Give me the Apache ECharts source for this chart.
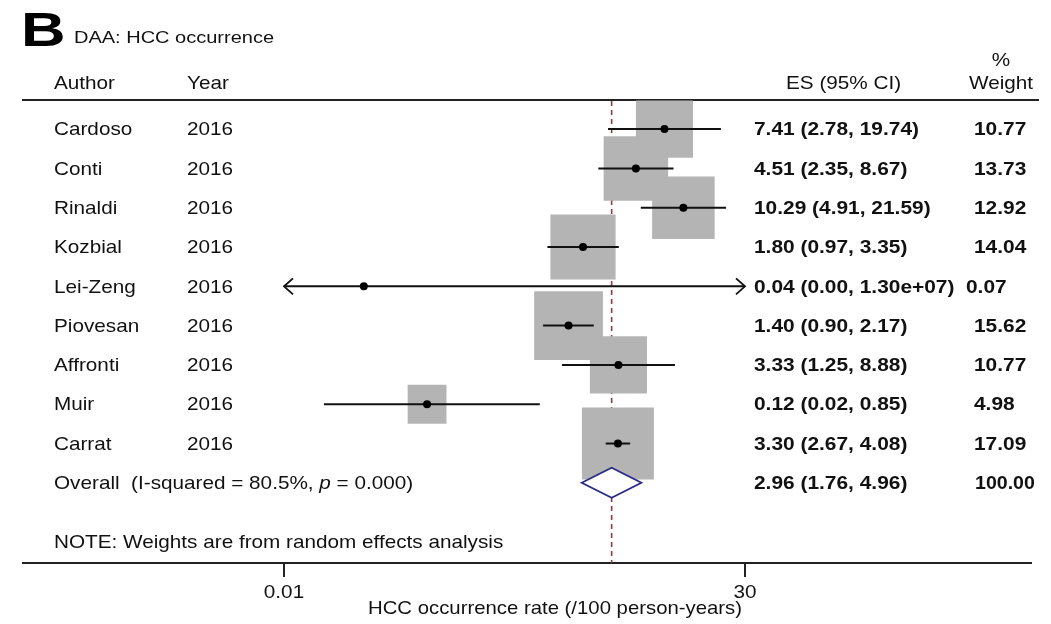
<!DOCTYPE html>
<html>
<head>
<meta charset="utf-8">
<script src="https://cdn.jsdelivr.net/npm/echarts@6/dist/echarts.min.js"></script>
<style>
  html, body { margin: 0; padding: 0; background: #fff; }
  #chart { width: 1051px; height: 624px; }
</style>
</head>
<body>
<div id="chart"></div>
<script>
// Study-level estimates (HCC occurrence per 100 person-years, DAA cohorts)
const authors   = ['Cardoso', 'Conti', 'Rinaldi', 'Kozbial', 'Lei-Zeng', 'Piovesan', 'Affronti', 'Muir', 'Carrat'];
const years     = [2016, 2016, 2016, 2016, 2016, 2016, 2016, 2016, 2016];
const esValues  = [7.41, 4.51, 10.29, 1.80, 0.04, 1.40, 3.33, 0.12, 3.30];
const ciLower   = [2.78, 2.35, 4.91, 0.97, 0.00, 0.90, 1.25, 0.02, 2.67];
const ciUpper   = [19.74, 8.67, 21.59, 3.35, 1.30e7, 2.17, 8.88, 0.85, 4.08];
const weights   = [10.77, 13.73, 12.92, 14.04, 0.07, 15.62, 10.77, 4.98, 17.09];

// Pooled random-effects estimate
const overallEs     = [2.96];
const overallCi     = [1.76, 4.96];
const overallWeight = [100.00];
const heterogeneity = { i2: '80.5%', p: '0.000' };

// Axis ticks (log scale)
const xTicks = [0.01, 30];
const xTickLabels = ['0.01', '30'];

const FONT = '"Liberation Sans", Arial, Helvetica, sans-serif';
const INK = '#111111';
const SX = 1.09;              // horizontal stretch of regular text
const SX_BOLD = 1.1;          // horizontal stretch of bold text
const COL = { author: 54, year: 187, es: 754, weight: 974 };
const ROW_OVERALL = 9;

function fmt(v) {
  if (v >= 1e5) {
    return v.toExponential(2).replace(/e([+-])(\d)$/, 'e$10$2');
  }
  return v.toFixed(2);
}

function txt(text, x, y, o) {
  o = o || {};
  return {
    type: 'text',
    x: x, y: y + 1,
    scaleX: o.sx || (o.bold ? SX_BOLD : SX),
    style: {
      text: text,
      fontFamily: FONT,
      fontSize: o.size || 19,
      fontWeight: o.bold ? 'bold' : 'normal',
      fill: INK,
      align: o.align || 'left',
      verticalAlign: 'middle',
      rich: o.rich
    }
  };
}

const chart = echarts.init(document.getElementById('chart'), null, { renderer: 'canvas' });

const option = {
  animation: false,
  backgroundColor: '#ffffff',
  grid: { left: 284, right: 306, top: 100, bottom: 61, containLabel: false },
  xAxis: {
    type: 'log', logBase: 10, min: xTicks[0], max: xTicks[xTicks.length - 1],
    axisLine: { show: false }, axisTick: { show: false },
    axisLabel: { show: false }, splitLine: { show: false }
  },
  yAxis: {
    type: 'value', inverse: true, min: -0.74, max: 11.04,
    axisLine: { show: false }, axisTick: { show: false },
    axisLabel: { show: false }, splitLine: { show: false }
  },
  graphic: [
    { type: 'text', x: 21, y: 32, scaleX: 1.26, z: 5,
      style: { text: 'B', fontFamily: FONT, fontSize: 49, fontWeight: 'bold', fill: '#000', verticalAlign: 'middle' } },
    Object.assign(txt('DAA: HCC occurrence', 74, 38, { size: 16, sx: 1.25 }), { z: 5 }),
    Object.assign(txt('Author', COL.author, 83), { z: 5 }),
    Object.assign(txt('Year', COL.year, 83), { z: 5 }),
    Object.assign(txt('ES (95% CI)', 786, 83), { z: 5 }),
    Object.assign(txt('%', 1001, 60, { align: 'center' }), { z: 5 }),
    Object.assign(txt('Weight', 1001, 83, { align: 'center' }), { z: 5 }),
    { type: 'line', z: 0, shape: { x1: 22, y1: 100, x2: 1039, y2: 100 },
      style: { stroke: '#222', lineWidth: 2 } },
    { type: 'line', z: 0, shape: { x1: 22, y1: 563, x2: 1032, y2: 563 },
      style: { stroke: '#222', lineWidth: 2 } },
    Object.assign(txt('NOTE: Weights are from random effects analysis', COL.author, 542), { z: 5 }),
    Object.assign(txt('HCC occurrence rate (/100 person-years)', 555, 608, { align: 'center', sx: 1.07 }), { z: 5 })
  ],
  series: [
    // reference line at the pooled estimate
    {
      type: 'custom', z: 1, clip: false,
      data: overallEs.map(v => [v, 0]),
      renderItem: function (params, api) {
        const p = api.coord([api.value(0), 0]);
        const cs = params.coordSys;
        return {
          type: 'line',
          shape: { x1: p[0], y1: cs.y + 1, x2: p[0], y2: cs.y + cs.height },
          style: { stroke: '#a3323e', lineWidth: 1.6, lineDash: [5, 4] }
        };
      }
    },
    // weight boxes
    {
      type: 'custom', z: 2, clip: false,
      data: esValues.map((v, i) => [v, i]),
      renderItem: function (params, api) {
        const i = params.dataIndex;
        const c = api.coord([api.value(0), api.value(1)]);
        const side = 17.4 * Math.sqrt(weights[i]);
        return {
          type: 'rect',
          shape: { x: c[0] - side / 2, y: c[1] - side / 2, width: side, height: side },
          style: { fill: '#b4b4b4' }
        };
      }
    },
    // confidence intervals, point estimates and row text
    {
      type: 'custom', z: 3, clip: false,
      data: esValues.map((v, i) => [v, i]),
      renderItem: function (params, api) {
        const i = params.dataIndex;
        const row = api.value(1);
        const lo = Math.max(ciLower[i], xTicks[0]);
        const hi = Math.min(ciUpper[i], xTicks[xTicks.length - 1]);
        const pL = api.coord([lo, row]);
        const pR = api.coord([hi, row]);
        const c = api.coord([api.value(0), row]);
        const y = c[1];
        const children = [
          { type: 'line', shape: { x1: pL[0], y1: y, x2: pR[0], y2: y },
            style: { stroke: '#111', lineWidth: 2 } }
        ];
        if (ciLower[i] < xTicks[0]) {
          children.push({ type: 'polyline',
            shape: { points: [[pL[0] + 9, y - 8], [pL[0], y], [pL[0] + 9, y + 8]] },
            style: { stroke: '#111', lineWidth: 1.8, fill: null } });
        }
        if (ciUpper[i] > xTicks[xTicks.length - 1]) {
          children.push({ type: 'polyline',
            shape: { points: [[pR[0] - 9, y - 8], [pR[0], y], [pR[0] - 9, y + 8]] },
            style: { stroke: '#111', lineWidth: 1.8, fill: null } });
        }
        children.push({ type: 'circle', shape: { cx: c[0], cy: y, r: 4 }, style: { fill: '#000' } });
        children.push(txt(authors[i], COL.author, y));
        children.push(txt(String(years[i]), COL.year, y));
        children.push(txt(fmt(esValues[i]) + ' (' + fmt(ciLower[i]) + ', ' + fmt(ciUpper[i]) + ')', COL.es, y, { bold: true }));
        children.push(txt(weights[i].toFixed(2), ciUpper[i] >= 1e5 ? COL.weight - 8 : COL.weight, y, { bold: true }));
        return { type: 'group', children: children };
      }
    },
    // pooled estimate diamond
    {
      type: 'custom', z: 4, clip: false,
      data: overallEs.map(v => [v, ROW_OVERALL]),
      renderItem: function (params, api) {
        const row = api.value(1);
        const c = api.coord([api.value(0), row]);
        const l = api.coord([overallCi[0], row]);
        const r = api.coord([overallCi[1], row]);
        const h = 15;
        return {
          type: 'group',
          children: [
            { type: 'polygon',
              shape: { points: [[l[0], c[1]], [c[0], c[1] - h], [r[0], c[1]], [c[0], c[1] + h]] },
              style: { fill: '#ffffff', stroke: '#2b2b88', lineWidth: 1.8 } },
            txt('Overall  (I-squared = ' + heterogeneity.i2 + ', {i|p} = ' + heterogeneity.p + ')', COL.author, c[1], {
              rich: { i: { fontStyle: 'italic', fontFamily: FONT, fontSize: 19, fill: INK } }
            }),
            txt(fmt(api.value(0)) + ' (' + fmt(overallCi[0]) + ', ' + fmt(overallCi[1]) + ')', COL.es, c[1], { bold: true }),
            txt(overallWeight[0].toFixed(2), COL.weight + 1, c[1], { bold: true, sx: 1.03 })
          ]
        };
      }
    },
    // axis ticks and labels
    {
      type: 'custom', z: 3, clip: false,
      data: xTicks.map(t => [t, 0]),
      renderItem: function (params, api) {
        const cs = params.coordSys;
        const p = api.coord([api.value(0), 0]);
        const yb = cs.y + cs.height;
        return {
          type: 'group',
          children: [
            { type: 'line', shape: { x1: p[0], y1: yb, x2: p[0], y2: yb + 14 },
              style: { stroke: '#222', lineWidth: 2 } },
            txt(xTickLabels[params.dataIndex], p[0], yb + 29, { align: 'center' })
          ]
        };
      }
    }
  ]
};

chart.setOption(option);
</script>
</body>
</html>
